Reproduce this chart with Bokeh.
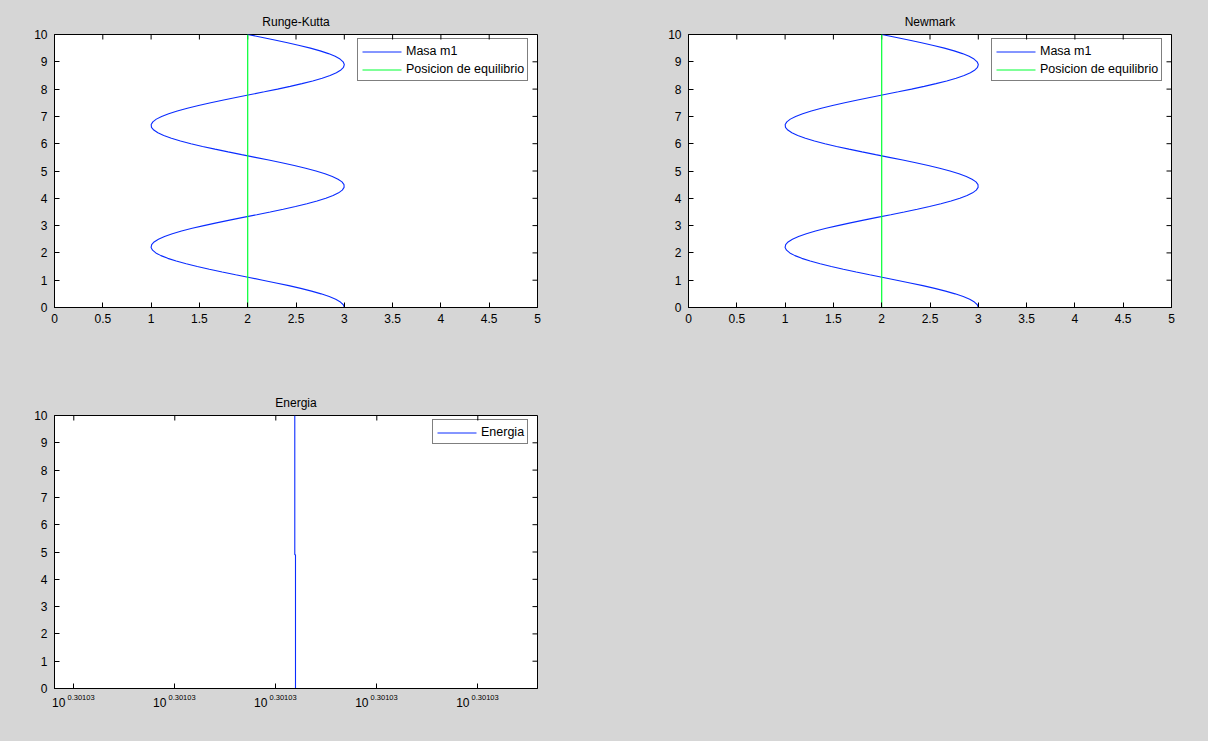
from bokeh.plotting import figure
from bokeh.models import Range1d, LinearAxis, FixedTicker, Legend, LegendItem
from bokeh.layouts import column, row
from bokeh.embed import file_html
from bokeh.resources import INLINE

# ---------------- data ----------------
tiempo = [0.0, 0.1, 0.2, 0.3, 0.4, 0.5, 0.6, 0.7, 0.8, 0.9,
          1.0, 1.1, 1.2, 1.3, 1.4, 1.5, 1.6, 1.7, 1.8, 1.9,
          2.0, 2.1, 2.2, 2.3, 2.4, 2.5, 2.6, 2.7, 2.8, 2.9,
          3.0, 3.1, 3.2, 3.3, 3.4, 3.5, 3.6, 3.7, 3.8, 3.9,
          4.0, 4.1, 4.2, 4.3, 4.4, 4.5, 4.6, 4.7, 4.8, 4.9,
          5.0, 5.1, 5.2, 5.3, 5.4, 5.5, 5.6, 5.7, 5.8, 5.9,
          6.0, 6.1, 6.2, 6.3, 6.4, 6.5, 6.6, 6.7, 6.8, 6.9,
          7.0, 7.1, 7.2, 7.3, 7.4, 7.5, 7.6, 7.7, 7.8, 7.9,
          8.0, 8.1, 8.2, 8.3, 8.4, 8.5, 8.6, 8.7, 8.8, 8.9,
          9.0, 9.1, 9.2, 9.3, 9.4, 9.5, 9.6, 9.7, 9.8, 9.9, 10.0]
rk_m1 = [3.000, 2.990, 2.960, 2.911, 2.844, 2.760, 2.661, 2.549, 2.426, 2.294,
         2.156, 2.016, 1.875, 1.736, 1.603, 1.478, 1.363, 1.260, 1.173, 1.102,
         1.049, 1.015, 1.000, 1.006, 1.031, 1.076, 1.139, 1.220, 1.315, 1.425,
         1.546, 1.676, 1.813, 1.953, 2.094, 2.233, 2.368, 2.495, 2.613, 2.718,
         2.809, 2.884, 2.941, 2.979, 2.998, 2.997, 2.976, 2.935, 2.876, 2.800,
         2.707, 2.600, 2.482, 2.353, 2.218, 2.078, 1.937, 1.797, 1.661, 1.532,
         1.412, 1.304, 1.210, 1.131, 1.070, 1.028, 1.004, 1.001, 1.018, 1.054,
         1.109, 1.182, 1.271, 1.375, 1.491, 1.617, 1.751, 1.890, 2.031, 2.172,
         2.309, 2.440, 2.562, 2.673, 2.771, 2.853, 2.918, 2.965, 2.992, 3.000,
         2.988, 2.956, 2.905, 2.836, 2.750, 2.649, 2.536, 2.412, 2.279, 2.141, 2.000]
nm_m1 = [3.000, 2.990, 2.960, 2.911, 2.844, 2.760, 2.661, 2.549, 2.426, 2.294,
         2.156, 2.016, 1.875, 1.736, 1.603, 1.478, 1.363, 1.260, 1.173, 1.102,
         1.049, 1.015, 1.000, 1.006, 1.031, 1.076, 1.139, 1.220, 1.315, 1.425,
         1.546, 1.676, 1.813, 1.953, 2.094, 2.233, 2.368, 2.495, 2.613, 2.718,
         2.809, 2.884, 2.941, 2.979, 2.998, 2.997, 2.976, 2.935, 2.876, 2.800,
         2.707, 2.600, 2.482, 2.353, 2.218, 2.078, 1.937, 1.797, 1.661, 1.532,
         1.412, 1.304, 1.210, 1.131, 1.070, 1.028, 1.004, 1.001, 1.018, 1.054,
         1.109, 1.182, 1.271, 1.375, 1.491, 1.617, 1.751, 1.890, 2.031, 2.172,
         2.309, 2.440, 2.562, 2.673, 2.771, 2.853, 2.918, 2.965, 2.992, 3.000,
         2.988, 2.956, 2.905, 2.836, 2.750, 2.649, 2.536, 2.412, 2.279, 2.141, 2.000]
equil_t = [0, 10]
equil_x = [2, 2]

# energy: position along the (log) energy axis, in units of tick spacing
energia_t = [0, 4.9, 4.9, 10]
energia_pos = [2.195, 2.195, 2.188, 2.188]

x_ticks = [0, 0.5, 1, 1.5, 2, 2.5, 3, 3.5, 4, 4.5, 5]
x_tick_labels = ["0", "0.5", "1", "1.5", "2", "2.5", "3", "3.5", "4", "4.5", "5"]
y_ticks = [0, 1, 2, 3, 4, 5, 6, 7, 8, 9, 10]
y_tick_labels = ["0", "1", "2", "3", "4", "5", "6", "7", "8", "9", "10"]
e_ticks = [0, 1, 2, 3, 4]
e_tick_base = ["10", "10", "10", "10", "10"]
e_tick_exp = ["0.30103", "0.30103", "0.30103", "0.30103", "0.30103"]

# ---------------- styling ----------------
FONT = "Liberation Sans"
BG = "#d6d6d6"
BLUE = "#0a2cff"
GREEN = "#00ff33"
FW, FH = 483, 273
TICK = 5  # px
NBSP = "\u00a0"
ROW_H, ROW_GAP, GLYPH_W, PAD = 17, 1, 42, 3


def style_axis(ax, ticks, labels, size="12px", standoff=6):
    ax.ticker = FixedTicker(ticks=ticks)
    ax.major_tick_in = TICK
    ax.major_tick_out = 0
    ax.minor_tick_line_color = None
    ax.axis_line_color = "black"
    ax.major_tick_line_color = "black"
    ax.major_label_text_font = FONT
    ax.major_label_text_color = "black"
    ax.major_label_text_font_size = size
    ax.major_label_standoff = standoff
    ax.major_label_overrides = {t: s for t, s in zip(ticks, labels)}


def make_panel(title, x0, x1, xticks, xlabels, left, top, right, bottom):
    p = figure(frame_width=FW, frame_height=FH, x_range=Range1d(x0, x1), y_range=Range1d(0, 10),
               output_backend="svg", toolbar_location=None,
               min_border_left=left, min_border_top=top,
               min_border_right=right, min_border_bottom=bottom,
               background_fill_color="white", border_fill_color=BG,
               outline_line_color="black", outline_line_width=1)
    p.grid.visible = False
    p.title.text = title
    p.title.align = "center"
    p.title.text_font = FONT
    p.title.text_font_size = "12px"
    p.title.text_font_style = "normal"
    p.title.text_color = "black"
    p.title.standoff = 11
    style_axis(p.xaxis[0], xticks, xlabels, standoff=6)
    style_axis(p.yaxis[0], y_ticks, y_tick_labels, standoff=7)
    # inward ticks on the top and right edges of the box
    dy = TICK * 10.0 / FH
    dx = TICK * (x1 - x0) / FW
    p.segment(x0=xticks, y0=[10] * len(xticks), x1=xticks, y1=[10 - dy] * len(xticks),
              line_color="black", line_width=1)
    p.segment(x0=[x1] * len(y_ticks), y0=y_ticks, x1=[x1 - dx] * len(y_ticks), y1=y_ticks,
              line_color="black", line_width=1)
    return p


def add_legend(p, x0, x1, labels, colors, left_px, top_px):
    """Legend box whose top-left corner is (left_px, top_px) from the frame's top-left.
    Its colour swatches are drawn as segments in the legend's glyph slots."""
    n = len(labels)
    height = 2 * PAD + n * ROW_H + (n - 1) * ROW_GAP
    bottom_px = FH - top_px - height
    items = []
    for lab, col in zip(labels, colors):
        key = p.segment(x0=[], y0=[], x1=[], y1=[], line_color=col, line_width=1)
        items.append(LegendItem(label=lab, renderers=[key]))
    p.add_layout(Legend(items=items, location=(left_px, bottom_px), margin=0, padding=PAD,
                        spacing=ROW_GAP, glyph_width=GLYPH_W, glyph_height=ROW_H,
                        label_height=ROW_H, label_standoff=3,
                        label_text_font=FONT, label_text_font_size="12.5px",
                        label_text_color="black", border_line_color="black",
                        border_line_width=1, background_fill_alpha=0.0))
    px_x = (x1 - x0) / FW
    px_y = 10.0 / FH
    for i, col in enumerate(colors):
        cy = top_px + PAD + ROW_H / 2.0 + i * (ROW_H + ROW_GAP)  # px from frame top
        sx0 = x0 + (left_px + PAD + 2) * px_x
        sx1 = x0 + (left_px + PAD + GLYPH_W - 1) * px_x
        p.segment(x0=[sx0], y0=[10 - cy * px_y], x1=[sx1], y1=[10 - cy * px_y],
                  line_color=col, line_width=1)


def motion_panel(title, data, left, right):
    p = make_panel(title, 0, 5, x_ticks, x_tick_labels, left, 34, right, 81)
    p.line(data, tiempo, line_color=BLUE, line_width=1.1)
    p.line(equil_x, equil_t, line_color=GREEN, line_width=1.2)
    add_legend(p, 0, 5, ["Masa m1", "Posicion de equilibrio"], [BLUE, GREEN], 303, 6)
    return p


p1 = motion_panel("Runge-Kutta", rk_m1, 54, 105)
p2 = motion_panel("Newmark", nm_m1, 46, 35)

# Energia panel: x axis is a log axis whose labels all read 10^0.30103
exp_labels = [NBSP * 7 + e for e in e_tick_exp]
base_labels = [b + NBSP * 9 for b in e_tick_base]
p3 = make_panel("Energia", -0.191, 4.591, e_ticks, exp_labels, 54, 26, 105, 50)
style_axis(p3.xaxis[0], e_ticks, exp_labels, size="7.5px", standoff=4)
base_axis = LinearAxis()
style_axis(base_axis, e_ticks, base_labels, size="12px", standoff=-9)
base_axis.axis_line_color = None
base_axis.major_tick_line_color = None
base_axis.major_tick_in = 0
p3.add_layout(base_axis, "below")
p3.line(energia_pos, energia_t, line_color=BLUE, line_width=1.1)
add_legend(p3, -0.191, 4.591, ["Energia"], [BLUE], 378, 6)

layout = column(row(p1, p2), p3, styles={"background-color": BG})

html = file_html(layout, INLINE, title="plot")
html = html.replace("</head>", "<style>html, body {background-color: %s;}</style></head>" % BG, 1)
open("out.html", "w").write(html)
